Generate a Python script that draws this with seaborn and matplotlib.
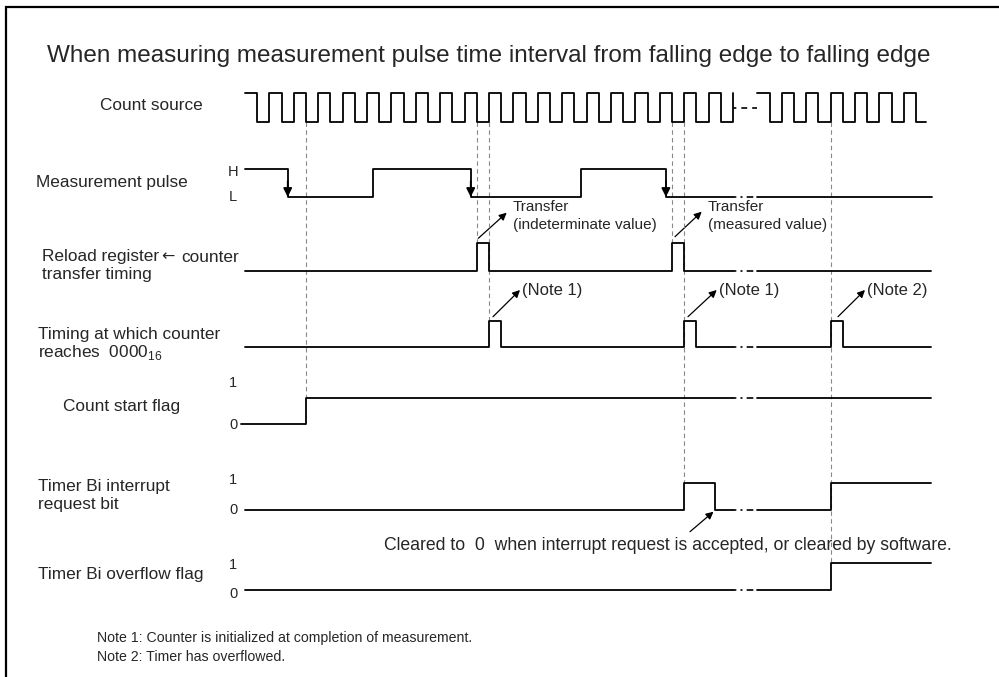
import numpy as np
import pandas as pd
import matplotlib.pyplot as plt
import seaborn as sns

sns.set_theme(style="white")
plt.rcParams['font.family'] = ['Liberation Sans', 'DejaVu Sans']
plt.rcParams['mathtext.fontset'] = 'custom'
plt.rcParams['mathtext.rm'] = 'Liberation Sans'

# time is counted in half periods of the count source
count_source_a_t = [0, 1, 2, 3, 4, 5, 6, 7, 8, 9, 10, 11, 12, 13, 14, 15, 16, 17, 18, 19, 20,
                    21, 22, 23, 24, 25, 26, 27, 28, 29, 30, 31, 32, 33, 34, 35, 36, 37, 38, 39, 40]
count_source_a_v = [1, 0, 1, 0, 1, 0, 1, 0, 1, 0, 1, 0, 1, 0, 1, 0, 1, 0, 1, 0, 1,
                    0, 1, 0, 1, 0, 1, 0, 1, 0, 1, 0, 1, 0, 1, 0, 1, 0, 1, 0, 1]
count_source_b_t = [42, 43, 44, 45, 46, 47, 48, 49, 50, 51, 52, 53, 54, 55, 55.8]
count_source_b_v = [1, 0, 1, 0, 1, 0, 1, 0, 1, 0, 1, 0, 1, 0, 0]

pulse_a_t = [0, 3.5, 10.5, 18.5, 27.5, 34.5, 40]
pulse_a_v = [1, 0, 1, 0, 1, 0, 0]
pulse_b_t = [42, 56.3]
pulse_b_v = [0, 0]
pulse_falls = [3.5, 18.5, 34.5]

reload_a_t = [0, 19, 20, 35, 36, 40]
reload_a_v = [0, 1, 0, 1, 0, 0]
reload_b_t = [42, 56.2]
reload_b_v = [0, 0]

zero_a_t = [0, 20, 21, 36, 37, 40]
zero_a_v = [0, 1, 0, 1, 0, 0]
zero_b_t = [42, 48, 49, 56.2]
zero_b_v = [0, 1, 0, 0]

start_a_t = [-0.3, 5, 40]
start_a_v = [0, 1, 1]
start_b_t = [42, 56.2]
start_b_v = [1, 1]

irq_a_t = [0, 36, 38.5, 40]
irq_a_v = [0, 1, 0, 0]
irq_b_t = [42, 48, 56.2]
irq_b_v = [0, 1, 1]

ovf_a_t = [0, 40]
ovf_a_v = [0, 0]
ovf_b_t = [42, 48, 56.2]
ovf_b_v = [0, 1, 1]

guide_t = [5, 19, 20, 35, 36, 48]
guide_to = ['start', 'reload', 'zero', 'reload', 'irq', 'ovf']

# pixel rows (low, high) of each trace
rows = {
    'clock': (122, 93),
    'pulse': (197, 169),
    'reload': (271, 243),
    'zero': (347, 321),
    'start': (424, 398),
    'irq': (510, 483),
    'ovf': (590, 563),
}

traces = [
    ('clock', count_source_a_t, count_source_a_v), ('clock', count_source_b_t, count_source_b_v),
    ('pulse', pulse_a_t, pulse_a_v), ('pulse', pulse_b_t, pulse_b_v),
    ('reload', reload_a_t, reload_a_v), ('reload', reload_b_t, reload_b_v),
    ('zero', zero_a_t, zero_a_v), ('zero', zero_b_t, zero_b_v),
    ('start', start_a_t, start_a_v), ('start', start_b_t, start_b_v),
    ('irq', irq_a_t, irq_a_v), ('irq', irq_b_t, irq_b_v),
    ('ovf', ovf_a_t, ovf_a_v), ('ovf', ovf_b_t, ovf_b_v),
]

parts = []
for i, (row, ts, vs) in enumerate(traces):
    lo, hi = rows[row]
    parts.append(pd.DataFrame({'t': ts, 'y': [lo - v * (lo - hi) for v in vs], 'seg': i}))
df = pd.concat(parts, ignore_index=True)

W, H = 999, 677
X0, HALF = 245, 12.2   # pixel of t=0, pixels per half period

fig = plt.figure(figsize=(W / 100, H / 100), dpi=100)
page = fig.add_axes([0, 0, 1, 1])
page.set_xlim(0, W)
page.set_ylim(H, 0)
page.axis('off')

ax = fig.add_axes([0, 0, 1, 1])
ax.patch.set_alpha(0)
ax.set_xlim(-X0 / HALF, (W - X0) / HALF)
ax.set_ylim(H, 0)

# dashed timing guides
for t, row in zip(guide_t, guide_to):
    ax.vlines(t, rows['clock'][0], rows[row][1], colors='#888888', lw=0.8,
              linestyles=(0, (4, 3)), zorder=1)

sns.lineplot(data=df, x='t', y='y', units='seg', estimator=None, sort=False,
             drawstyle='steps-post', color='black', lw=1.3, ax=ax, legend=False, zorder=3)

# breaks in the time axis
ax.plot([40, 42], [107.5, 107.5], color='black', lw=1.2, linestyle=(1.5, (3.5, 3)))
for row in ['pulse', 'reload', 'zero', 'start', 'irq', 'ovf']:
    lo, hi = rows[row]
    y = hi if row == 'start' else lo
    ax.plot([40, 42], [y, y], color='black', lw=1.2, linestyle=(2, (4, 2.5, 1.2, 2.5)))

# falling-edge arrows of the measurement pulse
for t in pulse_falls:
    ax.annotate('', xy=(t, rows['pulse'][0]), xytext=(t, rows['pulse'][0] - 16),
                arrowprops=dict(arrowstyle='-|>', color='black', lw=1.2,
                                mutation_scale=13, shrinkA=0, shrinkB=0), zorder=4)

ax.axis('off')

# frame
page.plot([6, 6, W + 5], [H + 5, 7, 7], color='black', lw=1.6, solid_joinstyle='miter')

page.text(47, 56, 'When measuring measurement pulse time interval from falling edge to falling edge',
          fontsize=17.5, va='center', ha='left')

lab = dict(fontsize=12.4, va='center', ha='left')
page.text(100, 105, 'Count source', **lab)
page.text(36, 183, 'Measurement pulse', **lab)
page.text(42, 257, 'Reload register', **lab)
page.text(161, 257, '\u2190', fontsize=11.5, va='center', ha='left', family='DejaVu Sans')
page.text(181, 257, 'counter', **lab)
page.text(42, 275, 'transfer timing', **lab)
page.text(38, 334, 'Timing at which counter', **lab)
page.text(38, 352, 'reaches  0000$_\\mathrm{16}$', **lab)
page.text(63, 406, 'Count start flag', **lab)
page.text(38, 487, 'Timer Bi interrupt', **lab)
page.text(38, 505, 'request bit', **lab)
page.text(38, 574, 'Timer Bi overflow flag', **lab)

lvl = dict(fontsize=10.5, va='center', ha='center')
for x, y, s in [(233, 172, 'H'), (233, 197, 'L'), (233, 383, '1'), (233, 425, '0'),
                (233, 480, '1'), (233, 510, '0'), (233, 565, '1'), (233, 594, '0')]:
    page.text(x, y, s, **lvl)

arrow = dict(arrowstyle='-|>', color='black', lw=0.9, mutation_scale=11, shrinkA=0, shrinkB=0)
ann = dict(fontsize=11, va='center', ha='left')
page.annotate('', xy=(506.7, 212.7), xytext=(478.3, 238.3), arrowprops=arrow)
page.text(513, 207, 'Transfer', **ann)
page.text(513, 225, '(indeterminate value)', **ann)
page.annotate('', xy=(701.7, 211.7), xytext=(675, 236.7), arrowprops=arrow)
page.text(708, 207, 'Transfer', **ann)
page.text(708, 225, '(measured value)', **ann)

note = dict(fontsize=12, va='center', ha='left')
for x0, x1, s in [(493, 520, '(Note 1)'), (688, 716.7, '(Note 1)'), (838, 865, '(Note 2)')]:
    page.annotate('', xy=(x1, 290), xytext=(x0, 316.7), arrowprops=arrow)
    page.text(x1 + 2, 290, s, **note)

page.annotate('', xy=(713.5, 511.7), xytext=(690, 531.7), arrowprops=arrow)
page.text(384, 546, 'Cleared to  0  when interrupt request is accepted, or cleared by software.',
          fontsize=12.7, va='center', ha='left')

page.text(97, 638, 'Note 1: Counter is initialized at completion of measurement.', fontsize=10.2,
          va='center', ha='left')
page.text(97, 657, 'Note 2: Timer has overflowed.', fontsize=10.2, va='center', ha='left')

fig.savefig('out.png', dpi=100, facecolor='white')
